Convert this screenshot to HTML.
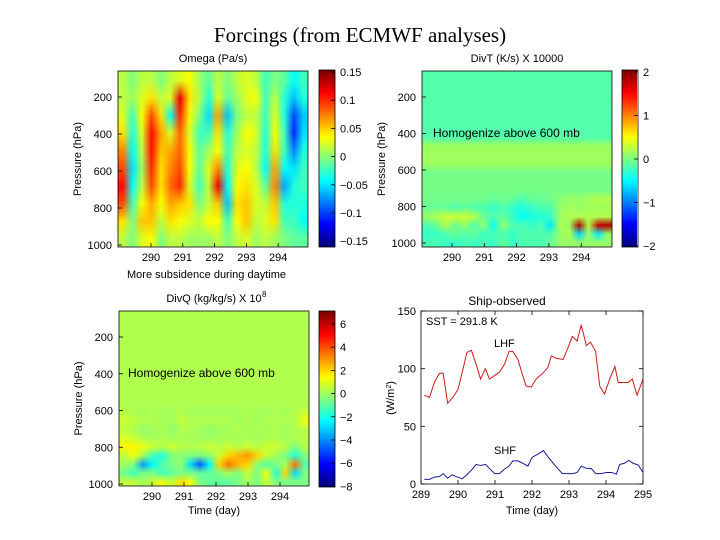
<!DOCTYPE html>
<html><head><meta charset="utf-8">
<style>
body{margin:0;background:#fff;}
#wrap{position:relative;width:720px;height:540px;overflow:hidden;background:#fff;font-family:"Liberation Sans",sans-serif;}
canvas{position:absolute;image-rendering:auto;}
svg{position:absolute;left:0;top:0;}
</style></head>
<body>
<div id="wrap">
<canvas id="cOm"></canvas>
<canvas id="cOmB"></canvas>
<canvas id="cDT"></canvas>
<canvas id="cDTB"></canvas>
<canvas id="cDQ"></canvas>
<canvas id="cDQB"></canvas>
<svg id="svg" width="720" height="540"></svg>
</div>
<script>
// ===== Omega data (hundredths Pa/s), columns over time, rows 100..1000 hPa
const omegaGrid = [
[2,2,3,5,8,10,12,10,5,2],
[0,1,-2,-3,-4,-5,-4,-2,0,0],
[2,3,4,3,2,1,2,4,6,3],
[2,5,10,12,12,11,10,7,6,4],
[0,2,5,7,6,5,5,4,2,0],
[2,3,-4,3,7,8,9,7,5,2],
[3,13,11,9,9,10,11,6,4,2],
[4,5,4,3,4,4,3,5,3,1],
[1,2,0,-2,-1,-1,-2,0,2,1],
[-1,-3,-5,-2,1,3,2,2,4,1],
[2,3,7,5,4,8,13,6,4,2],
[0,-1,-6,-3,-2,-3,-4,-6,-2,0],
[2,1,0,1,2,3,4,5,4,2],
[3,3,2,4,3,4,5,6,6,3],
[2,4,2,3,2,2,3,3,2,1],
[-2,-2,-2,-3,-3,-4,-1,2,3,2],
[0,2,3,4,5,7,8,6,5,1],
[-1,-3,-3,-2,-2,-4,-7,-3,-2,0],
[-4,-6,-10,-11,-8,-5,-3,-3,-2,-1],
[-2,-3,-6,-5,-3,-2,-2,-3,-4,-1]
];
const omegaTicks = ["0.15","0.1","0.05","0","\u22120.05","\u22120.1","\u22120.15"];
// ===== DivT: upper profile (14 rows) and lower grid (6 rows)
const divtProfile = [-0.18,-0.18,-0.18,-0.18,-0.18,-0.18,-0.18,-0.18,0.13,0.13,0.13,-0.04,-0.04,-0.04];
const divtLow = [
[-0.05,-0.1,0.1,-0.2,-0.3,-0.2],
[-0.05,-0.1,0.2,-0.1,-0.3,-0.2],
[-0.05,-0.1,0.3,0.2,-0.2,-0.3],
[-0.05,-0.2,0.3,-0.1,-0.1,-0.3],
[-0.05,-0.1,0.3,0.1,-0.2,-0.2],
[-0.05,-0.2,0.2,-0.2,-0.1,-0.3],
[-0.05,-0.2,-0.1,0.1,-0.3,-0.2],
[-0.1,-0.3,-0.2,-0.5,-0.2,-0.3],
[-0.05,-0.2,-0.1,0.1,-0.2,-0.1],
[-0.1,-0.3,-0.3,-0.2,-0.3,-0.3],
[-0.2,-0.4,-0.5,-0.2,-0.2,-0.2],
[-0.1,-0.3,-0.4,-0.3,-0.2,-0.2],
[-0.1,-0.2,-0.4,-0.2,-0.2,-0.2],
[-0.05,-0.2,-0.3,-0.6,-0.2,-0.1],
[0.05,0.1,0.1,0.2,0.1,0.1],
[0.1,0.15,0.2,0.1,0.2,0.1],
[0.1,0.1,0.2,1.9,-0.7,0.1],
[0.15,0.15,0.2,0.2,0.1,0.1],
[0.2,0.15,0.2,1.8,-0.6,0.1],
[0.2,0.15,0.2,1.9,0.1,0.1]
];
const divtTicks = ["2","1","0","\u22121","\u22122"];
// ===== DivQ: upper value and lower grid (9 rows)
const divqUpper = 0.2;
const divqLow = [
[0.3,0.6,0.4,0.8,1.5,0.3,0,-0.8,0.5],
[0.2,0.4,0.2,0.6,1.5,1.2,-0.6,-1.5,0.5],
[0,0.2,-0.3,0.2,1,0,-4,-0.6,0],
[0.2,0.2,0,0,0.6,-1.5,-2.5,-0.6,0.5],
[0,0,0.2,0.2,0.3,-2,-1.2,-1.5,1.2],
[0,0,-0.3,0,0.6,-0.6,-0.6,-1,0.5],
[0.2,0.5,0.2,0.2,0.3,-0.3,-0.3,-0.6,1.8],
[0,0.2,0.2,0,0.3,-0.6,-3,-0.6,1.2],
[0,0.2,0,0,0.3,-0.6,-5,-1,-0.6],
[0,0.2,-0.3,0,0.6,-0.3,-2.5,-1,-1],
[0,0.2,0,0,0.3,0.6,2,-0.6,-1],
[0,0.2,0,0.2,0.6,2,3.5,0,-1],
[0,0,0.2,0,0.3,2.5,2.5,-0.6,-0.6],
[0.2,0.2,0,0.2,0.6,3,2,0.6,0],
[0,0,0.2,0,0.3,2,-0.3,-0.6,-0.6],
[0,0.2,0,0.2,0.6,0.6,-1.2,1.2,0.5],
[0.2,0.2,0.2,0.2,0.6,0,-0.6,-2,-0.6],
[0,0.2,0,0,0.3,-0.6,0,2,-0.6],
[0.2,0.2,0.2,0.2,-0.6,-2,3.5,-3,-0.6],
[0.6,1.2,0.3,0.3,0.3,-0.6,-1.2,-0.6,-0.6]
];
const divqTicks = ["6","4","2","0","\u22122","\u22124","\u22126","\u22128"];
// ===== Ship observed fluxes
const lhfDays = [289.09,289.23,289.36,289.5,289.6,289.72,289.86,290.0,290.13,290.24,290.36,290.49,290.61,290.74,290.85,290.99,291.12,291.26,291.38,291.48,291.62,291.75,291.84,291.98,292.11,292.29,292.43,292.52,292.66,292.84,292.97,293.09,293.22,293.33,293.47,293.58,293.72,293.83,293.96,294.1,294.24,294.33,294.47,294.6,294.71,294.84,295.0];
const lhfVals = [77,75,88,96,96,70,75,82,99,114,116,104,91,100,91,94,97,104,115,115,108,94,85,84,91,96,101,111,109,108,118,128,124,138,120,123,115,85,78,91,102,88,88,88,91,77,91];
const shfDays = [289.09,289.23,289.36,289.5,289.6,289.72,289.84,289.99,290.11,290.24,290.36,290.49,290.61,290.74,290.85,290.99,291.12,291.26,291.38,291.48,291.62,291.75,291.89,292.0,292.16,292.31,292.47,292.65,292.82,292.97,293.11,293.22,293.33,293.47,293.6,293.72,293.87,294.01,294.16,294.28,294.37,294.5,294.62,294.73,294.87,295.0];
const shfVals = [4,4,6,6.5,9,5,8,6,4.5,8,12,17,16,17,13.5,9,9,13,15.5,20,20,18,15.5,23,26,29,22,15,9,9,9,10,15.5,13.5,13.5,9,9,10,10,8.5,17,18,20.5,18,16.5,10];
const fluxXTicks = [289,290,291,292,293,294,295];
const fluxYTicks = [0,50,100,150];
const dayTicks = [290,291,292,293,294];
const pTicks = [200,400,600,800,1000];

function jet(t){t=Math.max(0,Math.min(1,t));
 const r=Math.max(0,Math.min(1,1.5-Math.abs(4*t-3)));
 const g=Math.max(0,Math.min(1,1.5-Math.abs(4*t-2)));
 const b=Math.max(0,Math.min(1,1.5-Math.abs(4*t-1)));
 return [r*255|0,g*255|0,b*255|0];}
function paint(id,x,y,w,h,cols,rows,fn){
 const c=document.getElementById(id);c.width=cols;c.height=rows;
 c.style.left=x+'px';c.style.top=y+'px';c.style.width=w+'px';c.style.height=h+'px';
 const ctx=c.getContext('2d');const im=ctx.createImageData(cols,rows);
 for(let i=0;i<cols;i++)for(let j=0;j<rows;j++){const [r,g,b]=fn(i,j);const k=(j*cols+i)*4;im.data[k]=r;im.data[k+1]=g;im.data[k+2]=b;im.data[k+3]=255;}
 ctx.putImageData(im,0,0);}
// Omega
paint('cOm',118,71,190,176,omegaGrid.length,10,(i,j)=>jet((omegaGrid[i][j]+16.5)/33));
paint('cOmB',319,70,16,177,1,64,(i,j)=>jet(1-j/63));
// DivT
paint('cDT',422,71,190,176,divtLow.length,20,(i,j)=>{let v=j<14?divtProfile[j]:divtLow[i][j-14];return jet((v+2.1)/4.2);});
paint('cDTB',622,70,15,177,1,64,(i,j)=>jet(1-j/63));
// DivQ
paint('cDQ',119,311,190,175,divqLow.length,20,(i,j)=>{let v=j<11?divqUpper:divqLow[i][j-11];return jet((v+8.3)/15.5);});
paint('cDQB',319,311,16,176,1,64,(i,j)=>jet(1-j/63));

const svg=document.getElementById('svg');const NS='http://www.w3.org/2000/svg';
function el(tag,attrs,parent){const e=document.createElementNS(NS,tag);for(const k in attrs)e.setAttribute(k,attrs[k]);(parent||svg).appendChild(e);return e;}
function txt(s,x,y,name,opts){const t=el('text',Object.assign({x:x,y:y,'font-size':11,'font-family':'Liberation Sans, sans-serif',fill:'#000'},opts||{}));t.textContent=s;
 
 
 return t;}
function box(x,y,w,h,name){const r=el('rect',{x:x,y:y,width:w,height:h,fill:'none',stroke:'#000','stroke-width':0.8});
 
 }

txt('Forcings (from ECMWF analyses)',360,42,'figure-title',{'font-size':21,'font-family':'Liberation Serif, serif','text-anchor':'middle'});

function heatAxes(x0,x1,y0,y1,p2y,d2x,title,tname,cbx,cby0,cby1,ticks,tickY,showTime){
 box(x0,y0,x1-x0,y1-y0,tname+'-plot-frame');
 txt(title,(x0+x1)/2,y0-9,tname+'-title',{'text-anchor':'middle'});
 pTicks.forEach(p=>{const y=p2y(p);el('line',{x1:x0,y1:y,x2:x0+4,y2:y,stroke:'#000','stroke-width':0.8});txt(String(p),x0-6,y+4,'pressure-tick-label',{'text-anchor':'end'});});
 dayTicks.forEach(d=>{const x=d2x(d);el('line',{x1:x,y1:y1,x2:x,y2:y1-4,stroke:'#000','stroke-width':0.8});txt(String(d),x,y1+14,'time-tick-label',{'text-anchor':'middle'});});
 txt('Pressure (hPa)',0,0,tname+'-y-axis-title',{'text-anchor':'middle','transform':'translate('+(x0-37)+','+((y0+y1)/2)+') rotate(-90)'});
 box(cbx,cby0,16,cby1-cby0,tname+'-colorbar-frame');
 ticks.forEach((s,i)=>{const y=tickY(i);el('line',{x1:cbx+16,y1:y,x2:cbx+12,y2:y,stroke:'#000','stroke-width':0.8});txt(s,cbx+21,y+4,'colorbar-tick-label');});
 if(showTime)txt('Time (day)',(x0+x1)/2,y1+28,tname+'-x-axis-title',{'text-anchor':'middle'});
}
heatAxes(118,308,71,247,p=>97+(p-200)*(245-97)/800,d=>151+(d-290)*31.8,'Omega (Pa/s)','omega',319,70,247,omegaTicks,i=>72+i*28.2,false);
txt('More subsidence during daytime',127,278,'omega-annotation');
heatAxes(422,612,71,247,p=>97+(p-200)*(243-97)/800,d=>452+(d-290)*32.3,'DivT (K/s) X 10000','divt',622,70,247,divtTicks,i=>72+i*43.5,false);
txt('Homogenize above 600 mb',433,137,'divt-annotation',{'font-size':12});
heatAxes(119,309,311,486,p=>337+(p-200)*(484-337)/800,d=>152+(d-290)*32,'DivQ (kg/kg/s) X 10','divq',319,311,487,divqTicks,i=>324+i*23.2,true);
txt('8',262,297,'divq-title-exponent',{'font-size':8});
txt('Homogenize above 600 mb',128,377,'divq-annotation',{'font-size':12});

// Flux line chart
const fx0=421,fx1=643,fy0=311,fy1=484;
const fX=d=>fx0+(d-289)*(fx1-fx0)/6;
const fY=v=>fy1-v*(fy1-fy0)/150;
box(fx0,fy0,fx1-fx0,fy1-fy0,'flux-plot-frame');
fluxXTicks.forEach(d=>{const x=fX(d);el('line',{x1:x,y1:fy1,x2:x,y2:fy1-4,stroke:'#000','stroke-width':0.8});el('line',{x1:x,y1:fy0,x2:x,y2:fy0+4,stroke:'#000','stroke-width':0.8});txt(String(d),x,fy1+14,'flux-x-tick-label',{'text-anchor':'middle'});});
fluxYTicks.forEach(v=>{const y=fY(v);el('line',{x1:fx0,y1:y,x2:fx0+4,y2:y,stroke:'#000','stroke-width':0.8});el('line',{x1:fx1,y1:y,x2:fx1-4,y2:y,stroke:'#000','stroke-width':0.8});txt(String(v),fx0-5,y+4,'flux-y-tick-label',{'text-anchor':'end'});});
txt('Ship-observed',507,305,'flux-title',{'text-anchor':'middle','font-size':12});
txt('Time (day)',532,514,'flux-x-axis-title',{'text-anchor':'middle'});
const yl=txt('(W/m',0,0,'flux-y-axis-title',{'text-anchor':'middle','transform':'translate(394,398) rotate(-90)'});
const sup=el('tspan',{'font-size':7,'baseline-shift':'super'},yl);sup.textContent='2';
const cl=el('tspan',{},yl);cl.textContent=')';
txt('SST = 291.8 K',426,325,'sst-annotation');
txt('LHF',494,347,'lhf-label');
txt('SHF',494,454,'shf-label');
const lhf=el('polyline',{points:lhfDays.map((d,i)=>fX(d)+','+fY(lhfVals[i])).join(' '),fill:'none',stroke:'#d01818','stroke-width':1});


const shf=el('polyline',{points:shfDays.map((d,i)=>fX(d)+','+fY(shfVals[i])).join(' '),fill:'none',stroke:'#1a1a9a','stroke-width':1});


</script>
</body></html>
